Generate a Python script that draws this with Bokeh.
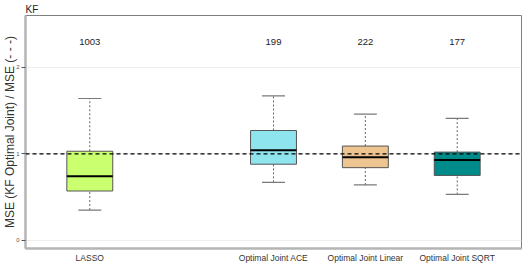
from bokeh.plotting import figure
from bokeh.models import FactorRange, Range1d, FixedTicker, Span, ColumnDataSource
from bokeh.core.properties import value
from bokeh.embed import file_html
from bokeh.resources import INLINE

# ---- data ----
methods = ["LASSO", "Optimal Joint ACE", "Optimal Joint Linear", "Optimal Joint SQRT"]
counts = ["1003", "199", "222", "177"]
whisker_low = [0.35, 0.67, 0.64, 0.53]
q1 = [0.57, 0.88, 0.84, 0.75]
median = [0.74, 1.04, 0.96, 0.93]
q3 = [1.03, 1.27, 1.09, 1.02]
whisker_high = [1.64, 1.67, 1.46, 1.41]
fill_colors = ["#CAFF70", "#8EE5EE", "#EEC591", "#008B8B"]
y_ticks = [0, 1, 2]
reference_level = 1.0
count_level = 2.29

FONT = "Liberation Sans"

factors = [methods[0], " "] + methods[1:]

src = ColumnDataSource(dict(m=methods, lo=whisker_low, q1=q1, med=median,
                            q3=q3, hi=whisker_high, col=fill_colors, n=counts))

p = figure(width=529, height=272, title="KF",
           x_range=FactorRange(*factors, range_padding=0.2, range_padding_units="absolute"),
           y_range=Range1d(-0.095, 2.6), output_backend="svg", toolbar_location=None,
           min_border_left=24, min_border_right=8, min_border_top=15, min_border_bottom=24)

p.title.text_font = FONT
p.title.text_font_size = "10px"
p.title.text_font_style = "normal"
p.title.text_color = "#222222"
p.title.align = "left"
p.title.offset = 0
p.title.standoff = 1

p.background_fill_color = "white"
p.border_fill_color = "white"
p.outline_line_color = "#7f7f7f"
p.outline_line_width = 1

# grids
p.xgrid.visible = False
p.ygrid.ticker = FixedTicker(ticks=y_ticks)
p.ygrid.grid_line_color = "#eeeeee"
p.ygrid.grid_line_width = 1

# y axis
p.yaxis.ticker = FixedTicker(ticks=y_ticks)
p.yaxis.axis_label = "MSE (KF Optimal Joint) / MSE (- - -)"
p.yaxis.axis_label_text_font = FONT
p.yaxis.axis_label_text_font_size = "12px"
p.yaxis.axis_label_text_font_style = "normal"
p.yaxis.axis_label_text_color = "#333333"
p.yaxis.axis_label_standoff = -4
p.yaxis.major_label_text_font = FONT
p.yaxis.major_label_text_font_size = "6px"
p.yaxis.major_label_text_font_style = "normal"
p.yaxis.major_label_text_color = "#555555"
p.yaxis.major_label_standoff = 2
p.yaxis.major_tick_out = 4
p.yaxis.major_tick_in = 0
p.yaxis.major_tick_line_color = "#555555"
p.yaxis.minor_tick_line_color = None
p.yaxis.axis_line_color = "#b5b5b5"
p.yaxis.axis_line_width = 2.5

# x axis
p.xaxis.major_label_text_font = FONT
p.xaxis.major_label_text_font_size = "8.5px"
p.xaxis.major_label_text_font_style = "normal"
p.xaxis.major_label_text_color = "#333333"
p.xaxis.major_label_standoff = 4
p.xaxis.major_tick_out = 0
p.xaxis.major_tick_in = 0
p.xaxis.minor_tick_line_color = None
p.xaxis.axis_line_color = "#b5b5b5"
p.xaxis.axis_line_width = 2.5

# whiskers (dotted)
p.segment(x0="m", y0="q3", x1="m", y1="hi", source=src, line_color="#666666",
          line_dash="2 2", line_width=1)
p.segment(x0="m", y0="lo", x1="m", y1="q1", source=src, line_color="#666666",
          line_dash="2 2", line_width=1)
# caps
p.vbar(x="m", top="hi", bottom="hi", width=0.25, source=src, fill_color=None,
       line_color="#7a7a7a", line_width=1.2)
p.vbar(x="m", top="lo", bottom="lo", width=0.25, source=src, fill_color=None,
       line_color="#7a7a7a", line_width=1.2)
# boxes
p.vbar(x="m", top="q3", bottom="q1", width=0.5, source=src, fill_color="col",
       line_color="#555555", line_width=1)
# medians
p.vbar(x="m", top="med", bottom="med", width=0.5, source=src, fill_color=None,
       line_color="black", line_width=2)

# counts
p.text(x="m", y=count_level, text="n", source=src, text_font=value(FONT),
       text_font_size="9.5px", text_align="center", text_baseline="middle",
       text_color="#222222")

# reference line
p.add_layout(Span(location=reference_level, dimension="width", line_color="black",
                  line_dash="4 3", line_width=1.2))

open("out.html", "w").write(file_html(p, INLINE))
